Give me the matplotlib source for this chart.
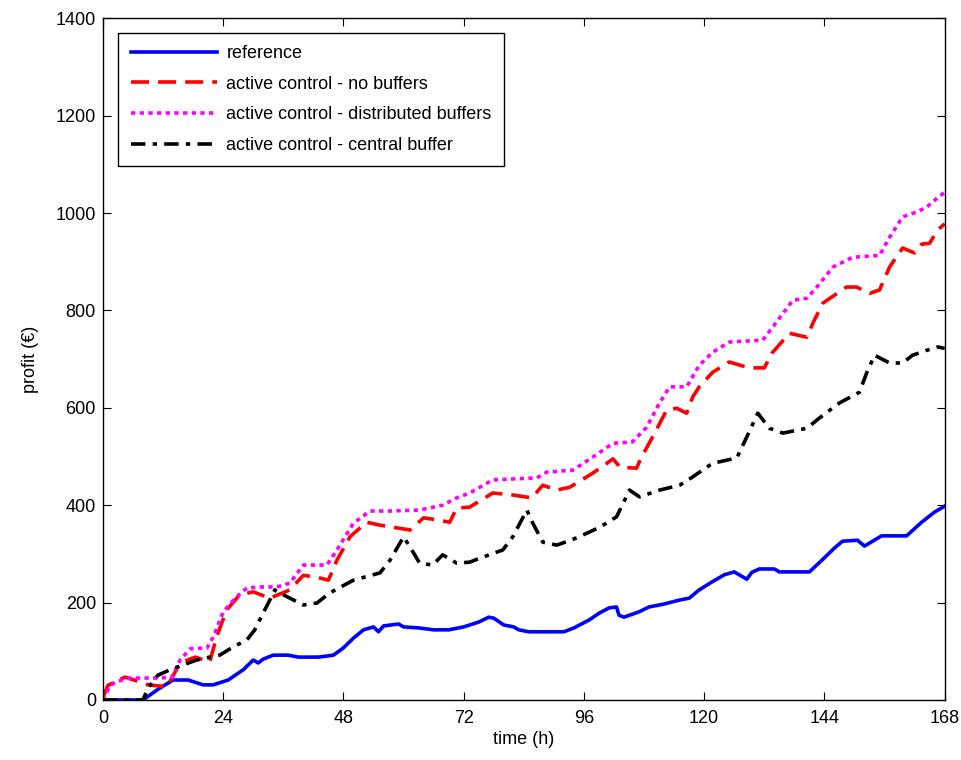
import matplotlib.pyplot as plt

plt.rcParams['font.family'] = ['Liberation Sans', 'DejaVu Sans']

# hours / profit (EUR)
t_ref = [0, 8, 11, 14, 17, 20, 22, 25, 28, 30, 31, 32, 34, 37, 39, 43, 46, 48, 50, 52, 54, 55, 56, 59, 60,
         63, 66, 69, 72, 75, 77, 78, 80, 82, 83, 85, 92, 94, 97, 99, 101, 102.5, 103, 104, 107, 109, 112,
         115, 117, 119, 121.5, 124, 126, 128.5, 129.5, 131, 134, 135, 141, 143.7, 146, 147.6, 150.6, 152,
         155.4, 160.4, 163.4, 166, 168]
v_ref = [0, 0, 22, 41, 41, 31, 31, 41, 62, 82, 76, 84, 92, 92, 88, 88, 92, 107, 127, 144, 150, 140, 152,
         156, 150, 148, 144, 144, 150, 160, 170, 168, 154, 150, 144, 140, 140, 148, 164, 178, 189, 191, 174,
         170, 181, 191, 197, 205, 209, 226, 242, 257, 263, 248, 262, 269, 269, 263, 263, 289, 312, 326, 328,
         316, 337, 337, 365, 386, 398]

t_nobuf = [0, 1, 4.4, 7.4, 9, 12.8, 15.4, 18.4, 21.3, 22.7, 24.7, 27.3, 30, 33.3, 37.3, 40, 42.7, 45, 46.7,
           49.3, 52.6, 55.3, 61.3, 64, 66.6, 69.2, 70.6, 73.2, 77.8, 81.8, 85.6, 87.8, 90.6, 93.2, 97.8,
           101.8, 103.2, 106.5, 107.5, 109.7, 112.5, 114.5, 116.5, 117.7, 119, 121.7, 125, 129, 132, 133.5,
           137, 140.5, 141.7, 143.7, 148.4, 150.4, 153, 155, 157, 159.6, 162, 163.4, 165, 166.6, 168]
v_nobuf = [5, 30, 47, 37, 31, 27, 76, 88, 78, 130, 185, 216, 222, 209, 226, 256, 252, 246, 287, 335, 365,
           359, 349, 374, 370, 365, 394, 396, 425, 421, 415, 441, 431, 437, 466, 495, 478, 476, 499, 540,
           595, 599, 589, 622, 643, 673, 694, 682, 682, 712, 753, 745, 774, 815, 848, 848, 835, 842, 889,
           928, 918, 936, 938, 965, 978]

t_dist = [0, 1.3, 2.4, 5.4, 8, 11.4, 13.8, 15.4, 17.4, 20.8, 22, 24, 26.4, 28.7, 31.3, 34.7, 37.3, 40,
          44.7, 46.7, 50, 53.3, 57.3, 63.2, 67.8, 70.6, 73.2, 77.8, 86.6, 88.6, 93.8, 97.8, 101.8, 105.7,
          108.5, 111.1, 113.1, 116.5, 119, 121.7, 125, 131.7, 133.7, 137.7, 140.5, 142.5, 145.7, 149.6,
          155, 157, 159.6, 162.4, 164.4, 167, 168]
v_dist = [0, 27, 37, 45, 45, 45, 47, 82, 105, 107, 129, 181, 209, 230, 232, 232, 240, 277, 277, 308, 363,
          388, 388, 390, 400, 415, 425, 452, 456, 468, 472, 499, 527, 530, 560, 610, 643, 643, 687, 714,
          735, 739, 766, 821, 825, 848, 889, 909, 913, 950, 992, 1002, 1012, 1035, 1042]

t_cent = [0, 8, 9, 11, 13.4, 16, 18.7, 21.3, 23.3, 26, 28.7, 30.3, 32, 33.3, 34.3, 36, 40, 42.7, 45.3, 50,
          55.3, 57.3, 60, 62, 63.2, 65.8, 67.8, 70.6, 73.2, 75.2, 79.8, 81.8, 84.6, 85.8, 87.8, 90.6, 94.6,
          99.2, 102.5, 105.1, 107.1, 111.1, 115.1, 117.7, 120.5, 121.7, 126.5, 128.5, 130.7, 133, 135.7,
          140.5, 143, 147, 151, 152.4, 154, 157, 159.6, 161.6, 164.4, 166.6, 168]
v_cent = [0, 0, 25, 51, 62, 72, 82, 88, 92, 109, 123, 144, 179, 205, 226, 216, 195, 199, 220, 246, 261,
          287, 335, 302, 281, 277, 298, 281, 283, 291, 308, 335, 390, 363, 324, 318, 333, 355, 376, 431,
          417, 431, 441, 458, 478, 486, 497, 540, 589, 558, 548, 558, 579, 610, 632, 671, 708, 692, 692,
          708, 718, 725, 722]

x_ticks = [0, 24, 48, 72, 96, 120, 144, 168]
y_ticks = [0, 200, 400, 600, 800, 1000, 1200, 1400]

fig = plt.figure(figsize=(9.62, 7.6), dpi=100)
ax = fig.add_axes([0.107, 0.079, 0.875, 0.897])

ax.plot(t_ref, v_ref, color='blue', lw=2.6, label='reference')
ax.plot(t_nobuf, v_nobuf, color='red', lw=2.6, dashes=(5, 2.5), label='active control - no buffers')
ax.plot(t_dist, v_dist, color='magenta', lw=2.6, dashes=(1.2, 1.2), label='active control - distributed buffers')
ax.plot(t_cent, v_cent, color='black', lw=2.6, dashes=(4, 2, 1.2, 2), label='active control - central buffer')

ax.set_xlim(0, 168)
ax.set_ylim(0, 1400)
ax.set_xticks(x_ticks)
ax.set_yticks(y_ticks)
ax.tick_params(direction='in', top=True, right=True, length=6, labelsize=13)
ax.tick_params(axis='x', pad=7)
ax.tick_params(axis='y', pad=5)
ax.set_xlabel('time (h)', fontsize=13, labelpad=3)
ax.set_ylabel('profit (€)', fontsize=13, labelpad=12)
for s in ax.spines.values():
    s.set_linewidth(1.0)

leg = ax.legend(loc='upper left', bbox_to_anchor=(0.018, 0.979), fontsize=13, handlelength=4.8,
                fancybox=False, edgecolor='black', framealpha=1, borderpad=0.7, labelspacing=0.75,
                handletextpad=0.5, borderaxespad=0)
leg.get_frame().set_linewidth(1.0)

plt.savefig('out.png', dpi=100)
